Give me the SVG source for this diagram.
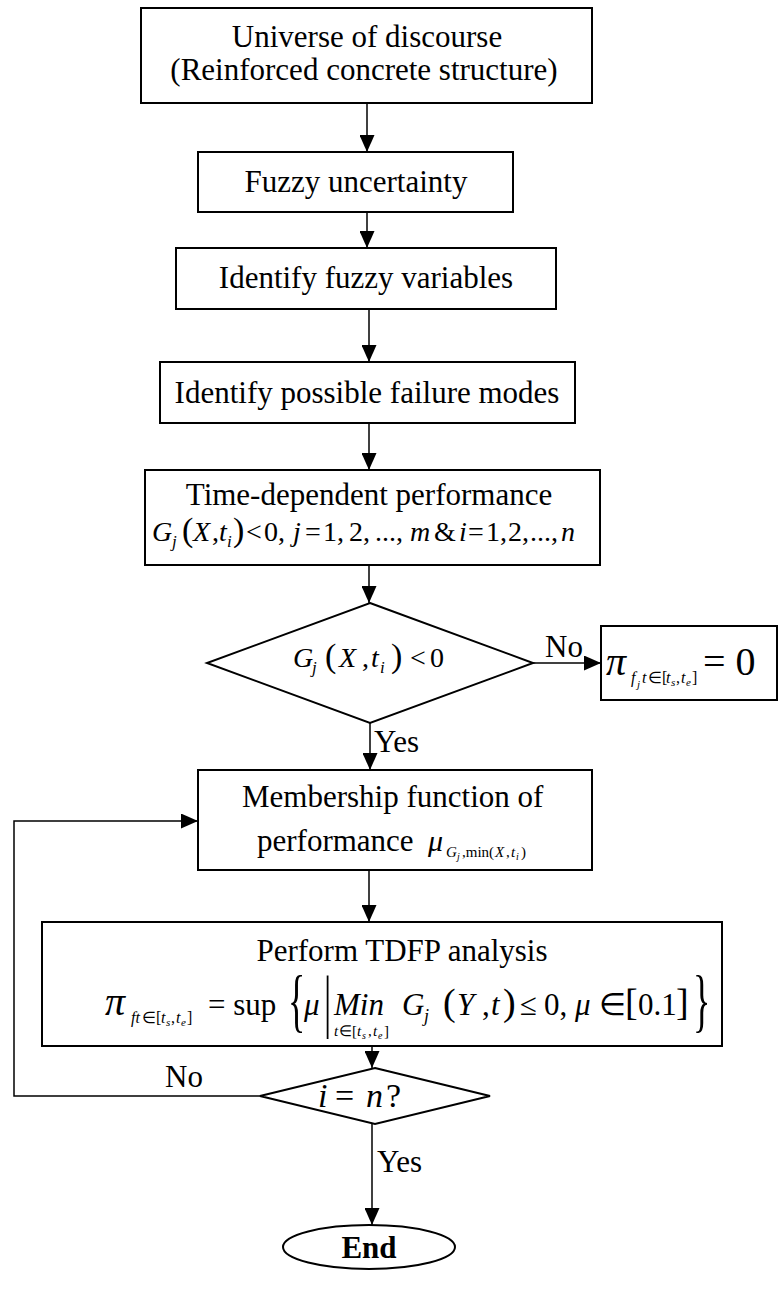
<svg xmlns="http://www.w3.org/2000/svg" width="779" height="1290" viewBox="0 0 779 1290">
<style>
.box{fill:#fff;stroke:#000;stroke-width:2}
.ln{fill:none;stroke:#000;stroke-width:1.5}
.t{font-family:"Liberation Serif","Times New Roman",serif;font-size:31px;fill:#000}
.c{text-anchor:middle}
.m{font-family:"Liberation Serif","Times New Roman",serif;fill:#000}
.i{font-style:italic}
</style>
<defs>
<marker id="ah" markerUnits="userSpaceOnUse" markerWidth="17" markerHeight="15" refX="17" refY="7.5" orient="auto">
<path d="M0,0 L17,7.5 L0,15 Z" fill="#000"/>
</marker>
</defs>
<rect width="779" height="1290" fill="#fff"/>

<g id="connectors">
<line class="ln" x1="367" y1="103" x2="367" y2="152" marker-end="url(#ah)"/>
<line class="ln" x1="367" y1="212" x2="367" y2="248" marker-end="url(#ah)"/>
<line class="ln" x1="369" y1="309" x2="369" y2="362" marker-end="url(#ah)"/>
<line class="ln" x1="369" y1="423" x2="369" y2="470" marker-end="url(#ah)"/>
<line class="ln" x1="369" y1="565" x2="369" y2="603" marker-end="url(#ah)"/>
<line class="ln" x1="533" y1="663" x2="601" y2="663" marker-end="url(#ah)"/>
<line class="ln" x1="370" y1="723" x2="370" y2="770" marker-end="url(#ah)"/>
<line class="ln" x1="369" y1="870" x2="369" y2="922" marker-end="url(#ah)"/>
<line class="ln" x1="372" y1="1046" x2="372" y2="1068" marker-end="url(#ah)"/>
<polyline class="ln" points="260,1096 14,1096 14,821 198,821" marker-end="url(#ah)"/>
<line class="ln" x1="372" y1="1124" x2="372" y2="1225" marker-end="url(#ah)"/>
<text class="t" x="545" y="657">No</text>
<text class="t" x="374" y="752">Yes</text>
<text class="t" x="165" y="1087">No</text>
<text class="t" x="377" y="1172">Yes</text>
</g>

<g id="n1">
<rect class="box" x="141" y="8" width="451" height="95"/>
<text class="t c" x="367" y="47">Universe of discourse</text>
<text class="t c" x="364" y="80" font-size="32">(Reinforced concrete structure)</text>
</g>

<g id="n2">
<rect class="box" x="198" y="152" width="315" height="60"/>
<text class="t c" x="356" y="192">Fuzzy uncertainty</text>
</g>

<g id="n3">
<rect class="box" x="176" y="248" width="380" height="61"/>
<text class="t c" x="366" y="288">Identify fuzzy variables</text>
</g>

<g id="n4">
<rect class="box" x="160" y="362" width="415" height="61"/>
<text class="t c" x="367" y="403">Identify possible failure modes</text>
</g>

<g id="n5">
<rect class="box" x="145" y="470" width="455" height="95"/>
<text class="t c" x="369" y="505">Time-dependent performance</text>
<text class="m" y="541" font-size="28">
<tspan x="152" class="i">G</tspan><tspan x="172" dy="6" font-size="17" class="i">j</tspan><tspan x="182" dy="-6" font-size="34">(</tspan><tspan x="193" class="i">X</tspan><tspan x="212">,</tspan><tspan x="219" class="i">t</tspan><tspan x="227" dy="6" font-size="17" class="i">i</tspan><tspan x="233" dy="-6" font-size="34">)</tspan><tspan x="246">&lt;</tspan><tspan x="264">0,</tspan><tspan x="293" class="i">j</tspan><tspan x="305">=</tspan><tspan x="323">1,</tspan><tspan x="349">2,</tspan><tspan x="375">...,</tspan><tspan x="410" class="i">m</tspan><tspan x="434">&amp;</tspan><tspan x="459" class="i">i</tspan><tspan x="468">=</tspan><tspan x="486">1,</tspan><tspan x="508">2,</tspan><tspan x="530">...,</tspan><tspan x="561" class="i">n</tspan>
</text>
</g>

<g id="d1">
<polygon class="box" points="370,603 533,663 370,723 207,663"/>
<text class="m" y="667" font-size="28">
<tspan x="293" class="i">G</tspan><tspan x="312" dy="6" font-size="17" class="i">j</tspan><tspan x="325" dy="-6" font-size="34">(</tspan><tspan x="339" class="i">X</tspan><tspan x="362">,</tspan><tspan x="371" class="i">t</tspan><tspan x="380" dy="6" font-size="17" class="i">i</tspan><tspan x="391" dy="-6" font-size="34">)</tspan><tspan x="410">&lt;</tspan><tspan x="430">0</tspan>
</text>
</g>

<g id="n6">
<rect class="box" x="601" y="626" width="176" height="74"/>
<text class="m" y="675">
<tspan x="606" font-size="40" class="i">π</tspan><tspan x="631" dy="8" font-size="16" class="i">f</tspan><tspan x="637" dy="5" font-size="11" class="i">j</tspan><tspan x="642" dy="-5" font-size="16" class="i">t</tspan><tspan x="648" font-size="16">∈[</tspan><tspan x="666" font-size="16" class="i">t</tspan><tspan x="671" dy="3" font-size="11" class="i">s</tspan><tspan x="676" dy="-3" font-size="16">,</tspan><tspan x="681" font-size="16" class="i">t</tspan><tspan x="686" dy="3" font-size="11" class="i">e</tspan><tspan x="692" dy="-3" font-size="16">]</tspan><tspan x="703" dy="-8" font-size="40">= 0</tspan>
</text>
</g>

<g id="n7">
<rect class="box" x="198" y="770" width="394" height="100"/>
<text class="t" x="242" y="807">Membership function of</text>
<text class="t" x="257" y="851">performance</text>
<text class="m" y="851">
<tspan x="428" font-size="30" class="i">μ</tspan><tspan x="446" dy="6" font-size="15" class="i">G</tspan><tspan x="457" dy="3" font-size="10" class="i">j</tspan><tspan x="462" dy="-3" font-size="15">,min(</tspan><tspan x="495" font-size="15" class="i">X</tspan><tspan x="506" font-size="15">,</tspan><tspan x="511" font-size="15" class="i">t</tspan><tspan x="516" dy="3" font-size="10" class="i">i</tspan><tspan x="521" dy="-3" font-size="15">)</tspan>
</text>
</g>

<g id="n8">
<rect class="box" x="42" y="922" width="680" height="124"/>
<text class="t c" x="402" y="961">Perform TDFP analysis</text>
<text class="m" y="1015">
<tspan x="105" font-size="40" class="i">π</tspan><tspan x="131" dy="8" font-size="16" class="i">ft</tspan><tspan x="142" font-size="16">∈[</tspan><tspan x="161" font-size="16" class="i">t</tspan><tspan x="166" dy="3" font-size="11" class="i">s</tspan><tspan x="171" dy="-3" font-size="16">,</tspan><tspan x="176" font-size="16" class="i">t</tspan><tspan x="181" dy="3" font-size="11" class="i">e</tspan><tspan x="187" dy="-3" font-size="16">]</tspan><tspan x="208" dy="-8" font-size="31">= sup</tspan>
</text>
<text class="m" font-size="36" transform="translate(288,1024) scale(1,1.95)">{</text>
<text class="m i" x="304" y="1015" font-size="31">μ</text>
<text class="m" font-size="36" transform="translate(324,1024) scale(1,1.95)">|</text>
<text class="m i" x="334" y="1015" font-size="31">Min</text>
<text class="m" y="1036" font-size="15"><tspan x="334" class="i">t</tspan><tspan x="339">∈[</tspan><tspan x="357" class="i">t</tspan><tspan x="362" dy="3" font-size="10" class="i">s</tspan><tspan x="368" dy="-3">,</tspan><tspan x="373" class="i">t</tspan><tspan x="378" dy="3" font-size="10" class="i">e</tspan><tspan x="384" dy="-3">]</tspan></text>
<text class="m" y="1015" font-size="31">
<tspan x="402" class="i">G</tspan><tspan x="424" dy="7" font-size="18" class="i">j</tspan><tspan x="443" dy="-7" font-size="38">(</tspan><tspan x="457" class="i">Y</tspan><tspan x="482">,</tspan><tspan x="491" class="i">t</tspan><tspan x="503" font-size="38">)</tspan><tspan x="520">≤</tspan><tspan x="544">0,</tspan><tspan x="575" class="i">μ</tspan><tspan x="599">∈</tspan><tspan x="625" font-size="38">[</tspan><tspan x="638">0.1</tspan><tspan x="676" font-size="38">]</tspan>
</text>
<text class="m" font-size="36" transform="translate(693,1024) scale(1,1.95)">}</text>
</g>

<g id="d2">
<polygon class="box" points="375,1068 490,1096 375,1124 260,1096"/>
<text class="m" y="1107" font-size="34"><tspan x="318" class="i">i</tspan><tspan x="335">=</tspan><tspan x="366" class="i">n</tspan><tspan x="386">?</tspan></text>
</g>

<g id="end">
<ellipse class="box" cx="369" cy="1247" rx="86" ry="22"/>
<text class="t c" x="369" y="1258" font-weight="bold">End</text>
</g>
</svg>
